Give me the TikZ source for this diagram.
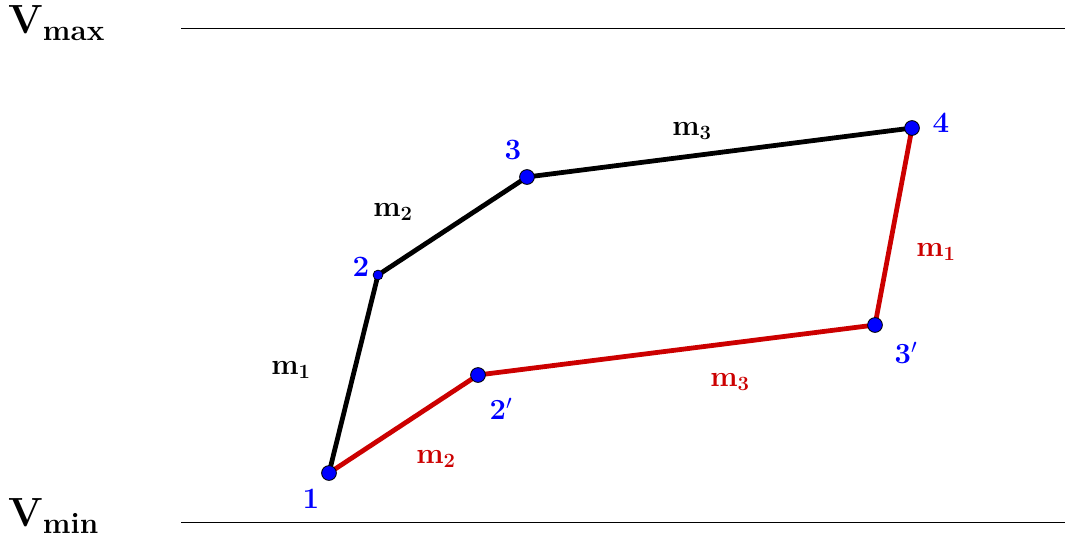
\documentclass[tikz,border=0pt]{standalone}
\usepackage{amsmath}
\definecolor{myred}{RGB}{204,0,0}
\definecolor{myblue}{RGB}{0,0,255}
\newcommand{\vlabel}[1]{{\fontsize{29}{32}\selectfont\bfseries V}\raisebox{-5pt}{\fontsize{21}{24}\selectfont\bfseries #1}}
\begin{document}
\begin{tikzpicture}[x=0.025cm,y=-0.025cm,
  edge/.style={line width=3.4pt,line cap=round},
  pt/.style={circle,fill=myblue,draw=black,line width=0.6pt,inner sep=0pt,minimum size=10.5pt},
  smallpt/.style={circle,fill=myblue,draw=black,line width=0.5pt,inner sep=0pt,minimum size=7pt},
  lab/.style={text=myblue,font=\fontsize{21}{24}\selectfont\bfseries},
  mlab/.style={font=\fontsize{22}{25}\selectfont},
  vlab/.style={inner sep=0pt,anchor=base west}]
\useasboundingbox (0,0) rectangle (1065,541);
\coordinate (amax) at (181,28); \coordinate (bmax) at (1065,28);
\coordinate (amin) at (181,522); \coordinate (bmin) at (1065,522);
\draw[line width=0.6pt] (amax) -- (bmax);
\draw[line width=0.6pt] (amin) -- (bmin);
\node[vlab] (vmax) at (8,33) {\vlabel{max}};
\node[vlab] (vmin) at (8,526) {\vlabel{min}};
\coordinate (p1) at (329,473);
\coordinate (p2) at (378,275);
\coordinate (p3) at (527,177);
\coordinate (p4) at (912,128);
\coordinate (q2) at (478,375);
\coordinate (q3) at (875,325);
\draw[edge] (p1) -- (p2) -- (p3) -- (p4);
\draw[edge,myred] (p1) -- (q2) -- (q3) -- (p4);
\node[pt] (n1) at (p1) {};
\node[smallpt] (n2) at (p2) {};
\node[pt] (n3) at (p3) {};
\node[pt] (n4) at (p4) {};
\node[pt] (m2) at (q2) {};
\node[pt] (m3) at (q3) {};
\node[lab] (l1) at (311,499) {1};
\node[lab] (l2) at (361,267) {2};
\node[lab] (l3) at (513,150) {3};
\node[lab] (l4) at (941,123) {4};
\node[lab] (l2p) at (501,409) {$\mathbf{2'}$};
\node[lab] (l3p) at (906,353) {$\mathbf{3'}$};
\node[mlab] (e3) at (692,131) {$\mathbf{m}_{\mathbf{3}}$};
\node[mlab] (e2) at (393,212) {$\mathbf{m}_{\mathbf{2}}$};
\node[mlab] (e1) at (291,370) {$\mathbf{m}_{\mathbf{1}}$};
\node[mlab,text=myred] (r1) at (936,252) {$\mathbf{m}_{\mathbf{1}}$};
\node[mlab,text=myred] (r3) at (730,382) {$\mathbf{m}_{\mathbf{3}}$};
\node[mlab,text=myred] (r2) at (436,459) {$\mathbf{m}_{\mathbf{2}}$};
\end{tikzpicture}
\end{document}
